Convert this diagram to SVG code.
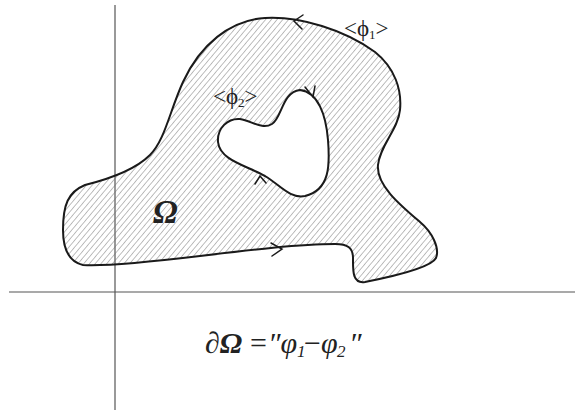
<svg xmlns="http://www.w3.org/2000/svg" width="577" height="416" viewBox="0 0 577 416">
<defs>
<pattern id="hatch" width="4.4" height="5" patternUnits="userSpaceOnUse" patternTransform="rotate(40)">
<line x1="0" y1="0" x2="0" y2="5" stroke="#6e6e6e" stroke-width="0.9"/>
</pattern>
<style>
.axis{stroke:#555;stroke-width:1.2;fill:none}
.edge{stroke:#1a1a1a;stroke-width:2;fill:none;stroke-linejoin:round}
.arr{stroke:#1a1a1a;stroke-width:1.5;fill:none;stroke-linecap:round}
.lbl{font-family:"Liberation Serif",serif;fill:#222}
</style>
</defs>
<rect width="577" height="416" fill="#fff"/>
<g id="axes">
<line class="axis" x1="115" y1="5" x2="115" y2="410"/>
<line class="axis" x1="9" y1="292" x2="575" y2="292"/>
</g>
<g id="region">
<path fill="url(#hatch)" fill-rule="evenodd" stroke="none" d="M 83,265 C 70,262 63,250 63,230 C 63,205 68,192 85,185 C 105,180 135,170 150,155 C 165,140 170,110 183,82 C 200,45 230,20 265,18 C 300,16 345,30 375,52 C 395,68 402,90 400,110 C 398,130 380,145 378,165 C 376,185 400,205 420,222 C 432,232 440,248 436,258 C 432,266 400,275 365,282 C 352,284 353,270 353,258 C 353,248 348,244 335,244 C 300,244 250,250 200,256 C 150,262 100,266 83,265 Z M 300,90 C 318,92 326,115 328,140 C 330,165 330,190 305,196 C 290,199 280,185 265,176 C 245,165 220,160 218,142 C 217,128 228,118 240,119 C 252,121 262,130 272,124 C 282,118 282,92 300,90 Z"/>
<path class="edge" d="M 83,265 C 70,262 63,250 63,230 C 63,205 68,192 85,185 C 105,180 135,170 150,155 C 165,140 170,110 183,82 C 200,45 230,20 265,18 C 300,16 345,30 375,52 C 395,68 402,90 400,110 C 398,130 380,145 378,165 C 376,185 400,205 420,222 C 432,232 440,248 436,258 C 432,266 400,275 365,282 C 352,284 353,270 353,258 C 353,248 348,244 335,244 C 300,244 250,250 200,256 C 150,262 100,266 83,265 Z"/>
<path class="edge" d="M 300,90 C 318,92 326,115 328,140 C 330,165 330,190 305,196 C 290,199 280,185 265,176 C 245,165 220,160 218,142 C 217,128 228,118 240,119 C 252,121 262,130 272,124 C 282,118 282,92 300,90 Z"/>
</g>
<g id="connectors">
<polyline class="arr" points="303,15 294,21 302,29"/>
<polyline class="arr" points="271,243 282,249 272,256"/>
<polyline class="arr" points="305,87 313,97 315,86"/>
<polyline class="arr" points="255,184 260,176 266,183"/>
</g>
<g id="labels">
<text class="lbl" x="344" y="36" font-size="23">&lt;ϕ<tspan font-size="13" dy="3">1</tspan><tspan dy="-3">&gt;</tspan></text>
<text class="lbl" x="213" y="104" font-size="23">&lt;ϕ<tspan font-size="13" dy="3">2</tspan><tspan dy="-3">&gt;</tspan></text>
<text class="lbl" x="153" y="223" font-size="33" font-style="italic" font-weight="bold">Ω</text>
<text class="lbl" y="353" font-size="30" font-style="italic"><tspan x="205">∂</tspan><tspan font-weight="bold">Ω</tspan><tspan x="250" font-style="normal">=</tspan><tspan x="268">″φ</tspan><tspan x="297" font-size="17" dy="4">1</tspan><tspan x="304" dy="-4" font-style="normal">−</tspan><tspan x="321">φ</tspan><tspan x="337" font-size="17" dy="4">2</tspan><tspan x="349" dy="-4">″</tspan></text>
</g>
</svg>
